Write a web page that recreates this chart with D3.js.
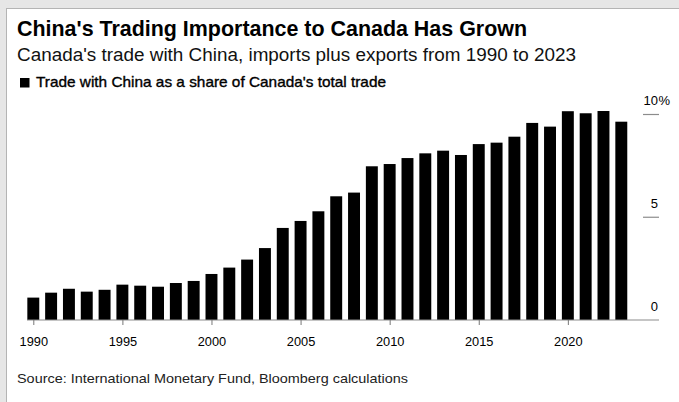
<!DOCTYPE html>
<html>
<head>
<meta charset="utf-8">
<script src="https://cdn.jsdelivr.net/npm/d3@7"></script>
<style>
  html, body { margin: 0; padding: 0; background: #e6e6e6; }
  svg { display: block; }
</style>
</head>
<body>
<svg id="chart" width="679" height="402"></svg>
<script>
// Canada's trade with China as a share of total trade, %
const years = d3.range(1990, 2024);
const shares = [
  1.09, 1.33, 1.52, 1.38, 1.47, 1.72, 1.67, 1.62, 1.80, 1.90,
  2.24, 2.55, 2.94, 3.50, 4.48, 4.82, 5.29, 6.02, 6.20, 7.48,
  7.59, 7.88, 8.11, 8.24, 8.03, 8.56, 8.63, 8.92, 9.59, 9.41,
  10.16, 10.06, 10.17, 9.65
];
const yearTicks = [1990, 1995, 2000, 2005, 2010, 2015, 2020];
const valueTicks = [0, 5, 10];

const titleText = "China's Trading Importance to Canada Has Grown";
const subtitleText = "Canada's trade with China, imports plus exports from 1990 to 2023";
const legendText = "Trade with China as a share of Canada's total trade";
const sourceText = "Source: International Monetary Fund, Bloomberg calculations";

const svg = d3.select("#chart");
const font = "'Liberation Sans', Arial, sans-serif";

// white card with a thin border
svg.append("rect")
  .attr("x", 6.5).attr("y", 8.5)
  .attr("width", 700).attr("height", 420)
  .attr("fill", "#fff").attr("stroke", "#b4b4b4").attr("stroke-width", 1);

// headings
svg.append("text")
  .attr("x", 17).attr("y", 35.5)
  .attr("font-family", font).attr("font-weight", "bold").attr("font-size", 21.5)
  .attr("fill", "#000")
  .attr("textLength", 510).attr("lengthAdjust", "spacingAndGlyphs")
  .text(titleText);

svg.append("text")
  .attr("x", 17).attr("y", 61)
  .attr("font-family", font).attr("font-size", 17.5)
  .attr("fill", "#111")
  .attr("textLength", 559).attr("lengthAdjust", "spacingAndGlyphs")
  .text(subtitleText);

svg.append("rect")
  .attr("x", 20).attr("y", 78).attr("width", 9.5).attr("height", 9.5)
  .attr("fill", "#000");

svg.append("text")
  .attr("x", 36).attr("y", 87.3)
  .attr("font-family", font).attr("font-size", 14.5)
  .attr("fill", "#000").attr("stroke", "#000").attr("stroke-width", 0.35)
  .attr("textLength", 350).attr("lengthAdjust", "spacingAndGlyphs")
  .text(legendText);

// scales
const step = (621.3 - 33.3) / (years.length - 1);
const x = d3.scaleBand()
  .domain(years)
  .range([33.3 - step / 2, 621.3 + step / 2])
  .paddingInner(0.33)
  .paddingOuter(0.165);

const y = d3.scaleLinear().domain([0, 10]).range([320, 114.5]);

// bars
svg.append("g")
  .selectAll("rect")
  .data(years.map((yr, i) => ({ yr, v: shares[i] })))
  .join("rect")
  .attr("x", d => x(d.yr))
  .attr("width", x.bandwidth())
  .attr("y", d => y(d.v))
  .attr("height", d => y(0) - y(d.v))
  .attr("fill", "#000");

// baseline
svg.append("line")
  .attr("x1", 27).attr("x2", 659)
  .attr("y1", y(0)).attr("y2", y(0))
  .attr("stroke", "#8c8c8c").attr("stroke-width", 1.2);

// x axis ticks and labels
const xAxis = d3.axisBottom(d3.scaleLinear()
    .domain([1990, 2023])
    .range([x(1990) + x.bandwidth() / 2, x(2023) + x.bandwidth() / 2]))
  .tickValues(yearTicks)
  .tickSize(5)
  .tickFormat(d3.format("d"));

const gx = svg.append("g")
  .attr("transform", `translate(0,${y(0)})`)
  .call(xAxis);
gx.select(".domain").remove();
gx.selectAll(".tick line").attr("stroke", "#777");
gx.selectAll(".tick text")
  .attr("font-family", font).attr("font-size", 13.5)
  .attr("fill", "#000").attr("dy", null).attr("y", 26.5)
  .attr("transform", "scale(0.95,1)");

// value axis on the right: short tick lines with labels above
const gy = svg.append("g");
const tickG = gy.selectAll("g")
  .data(valueTicks)
  .join("g")
  .attr("transform", d => `translate(0,${y(d)})`);

tickG.filter(d => d !== 0)
  .append("line")
  .attr("x1", 643).attr("x2", 659)
  .attr("stroke", "#8c8c8c").attr("stroke-width", 1.2);

tickG.append("text")
  .attr("x", 658).attr("y", -9.5)
  .attr("text-anchor", "end")
  .attr("font-family", font).attr("font-size", 13)
  .attr("fill", "#000")
  .text(d => d);

tickG.filter(d => d === 10)
  .append("text")
  .attr("x", 658.5).attr("y", -9.5)
  .attr("font-family", font).attr("font-size", 13)
  .attr("fill", "#000")
  .text("%");

// source
svg.append("text")
  .attr("x", 17).attr("y", 383)
  .attr("font-family", font).attr("font-size", 13)
  .attr("fill", "#222")
  .attr("textLength", 391).attr("lengthAdjust", "spacingAndGlyphs")
  .text(sourceText);
</script>
</body>
</html>
